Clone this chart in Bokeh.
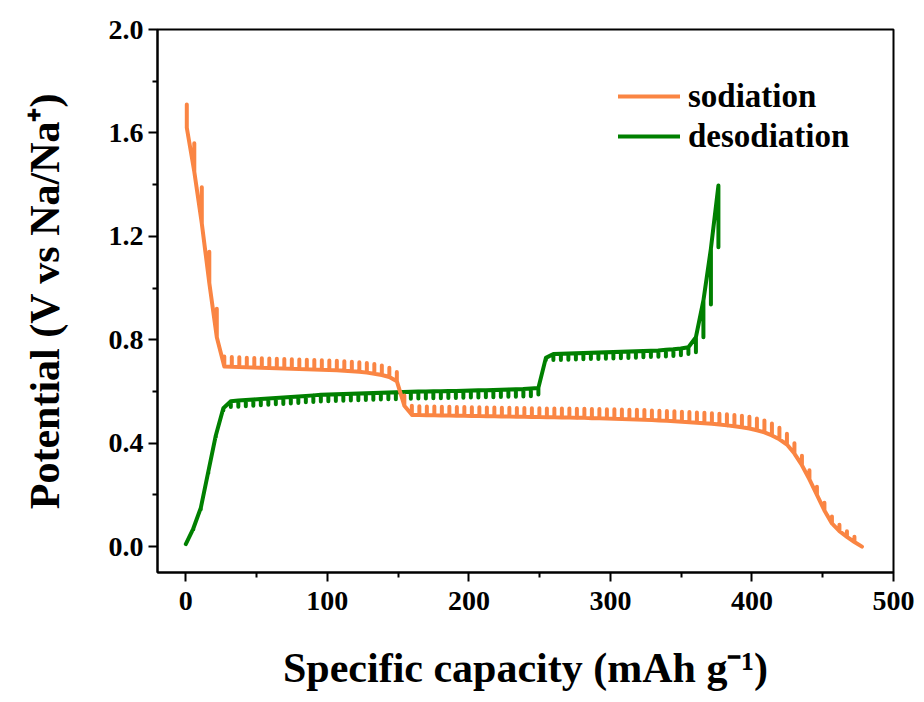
from bokeh.plotting import figure
from bokeh.models import Range1d, FixedTicker, PrintfTickFormatter, Legend, LegendItem
from bokeh.embed import file_html
from bokeh.resources import INLINE

# ---------------- data ----------------
# Sodiation (GITT discharge): start point, then per pulse: capacity, closed-circuit V, relaxed V
sod_start_q = 0.7
sod_start_v = [1.71, 1.62]
sod_q = [6.0, 11.3, 16.6, 21.9, 27.2, 32.5, 37.8, 43.1, 48.4, 53.7,
         59.0, 64.3, 69.6, 74.9, 80.2, 85.5, 90.8, 96.1, 101.4, 106.7,
         112.0, 117.3, 122.6, 127.9, 133.2, 138.5, 143.8, 149.1, 154.4, 159.7,
         165.0, 170.3, 175.6, 180.9, 186.2, 191.5, 196.8, 202.1, 207.4, 212.7,
         218.0, 223.3, 228.6, 233.9, 239.2, 244.5, 249.8, 255.1, 260.4, 265.7,
         271.0, 276.3, 281.6, 286.9, 292.2, 297.5, 302.8, 308.1, 313.4, 318.7,
         324.0, 329.3, 334.6, 339.9, 345.2, 350.5, 355.8, 361.1, 366.4, 371.7,
         377.0, 382.3, 387.6, 392.9, 398.2, 403.5, 408.8, 414.1, 419.4, 424.7,
         430.0, 435.3, 440.6, 445.9, 451.2, 456.5, 461.8, 467.1, 472.4, 477.7]
sod_v = [1.45, 1.25, 1.02, 0.81, 0.697, 0.696, 0.695, 0.694, 0.693, 0.692,
         0.691, 0.690, 0.689, 0.688, 0.687, 0.686, 0.685, 0.684, 0.683, 0.682,
         0.680, 0.678, 0.676, 0.673, 0.669, 0.664, 0.656, 0.640, 0.545, 0.510,
         0.509, 0.508, 0.508, 0.507, 0.507, 0.506, 0.506, 0.505, 0.505, 0.504,
         0.504, 0.503, 0.503, 0.502, 0.502, 0.501, 0.501, 0.500, 0.500, 0.499,
         0.499, 0.498, 0.498, 0.497, 0.497, 0.496, 0.495, 0.494, 0.493, 0.492,
         0.491, 0.490, 0.488, 0.487, 0.485, 0.483, 0.481, 0.479, 0.477, 0.475,
         0.472, 0.469, 0.466, 0.462, 0.457, 0.450, 0.442, 0.430, 0.415, 0.395,
         0.360, 0.315, 0.260, 0.200, 0.140, 0.090, 0.060, 0.038, 0.018, 0.000]
sod_ocv = [1.56, 1.39, 1.14, 0.92, 0.735, 0.733, 0.732, 0.731, 0.730, 0.729,
           0.728, 0.727, 0.726, 0.725, 0.724, 0.723, 0.722, 0.721, 0.720, 0.719,
           0.717, 0.715, 0.713, 0.710, 0.706, 0.701, 0.692, 0.675, 0.585, 0.545,
           0.543, 0.542, 0.542, 0.541, 0.541, 0.540, 0.540, 0.539, 0.539, 0.538,
           0.538, 0.537, 0.537, 0.536, 0.536, 0.535, 0.535, 0.534, 0.534, 0.534,
           0.534, 0.533, 0.533, 0.532, 0.532, 0.531, 0.531, 0.530, 0.529, 0.529,
           0.528, 0.527, 0.526, 0.525, 0.524, 0.522, 0.521, 0.519, 0.518, 0.516,
           0.514, 0.512, 0.509, 0.506, 0.502, 0.496, 0.488, 0.476, 0.460, 0.437,
           0.400, 0.352, 0.295, 0.232, 0.170, 0.117, 0.085, 0.060, 0.038, 0.000]

# Desodiation (GITT charge): start point, then per pulse: capacity, closed-circuit V, relaxed V
des_start_q = 0.0
des_start_v = [0.01]
des_q = [5.3, 10.6, 15.9, 21.2, 26.5, 31.8, 37.1, 42.4, 47.7, 53.0,
         58.3, 63.6, 68.9, 74.2, 79.5, 84.8, 90.1, 95.4, 100.7, 106.0,
         111.3, 116.6, 121.9, 127.2, 132.5, 137.8, 143.1, 148.4, 153.7, 159.0,
         164.3, 169.6, 174.9, 180.2, 185.5, 190.8, 196.1, 201.4, 206.7, 212.0,
         217.3, 222.6, 227.9, 233.2, 238.5, 243.8, 249.1, 254.4, 259.7, 265.0,
         270.3, 275.6, 280.9, 286.2, 291.5, 296.8, 302.1, 307.4, 312.7, 318.0,
         323.3, 328.6, 333.9, 339.2, 344.5, 349.8, 355.1, 360.4, 365.7, 371.0,
         376.3]
des_v = [0.070, 0.150, 0.290, 0.430, 0.535, 0.562, 0.565, 0.567, 0.569, 0.571,
         0.573, 0.575, 0.577, 0.579, 0.581, 0.583, 0.585, 0.587, 0.588, 0.589,
         0.590, 0.591, 0.592, 0.593, 0.594, 0.595, 0.596, 0.597, 0.598, 0.599,
         0.600, 0.600, 0.601, 0.601, 0.602, 0.602, 0.603, 0.604, 0.605, 0.605,
         0.606, 0.607, 0.608, 0.609, 0.610, 0.612, 0.614, 0.730, 0.745, 0.746,
         0.747, 0.748, 0.749, 0.750, 0.751, 0.752, 0.753, 0.754, 0.755, 0.756,
         0.757, 0.758, 0.759, 0.761, 0.763, 0.766, 0.771, 0.810, 0.952, 1.153,
         1.397]
des_ocv = [0.066, 0.145, 0.284, 0.424, 0.527, 0.540, 0.541, 0.543, 0.545, 0.547,
           0.549, 0.551, 0.552, 0.554, 0.556, 0.558, 0.559, 0.561, 0.562, 0.563,
           0.564, 0.565, 0.566, 0.567, 0.568, 0.569, 0.570, 0.570, 0.571, 0.572,
           0.573, 0.573, 0.574, 0.574, 0.575, 0.575, 0.576, 0.577, 0.577, 0.578,
           0.578, 0.579, 0.580, 0.580, 0.581, 0.582, 0.588, 0.722, 0.722, 0.722,
           0.723, 0.724, 0.725, 0.726, 0.726, 0.727, 0.728, 0.729, 0.730, 0.731,
           0.732, 0.733, 0.734, 0.735, 0.737, 0.740, 0.745, 0.752, 0.810, 0.936,
           1.158]

x_major = [0, 100, 200, 300, 400, 500]
x_minor = [50, 150, 250, 350, 450]
y_major = [0.0, 0.4, 0.8, 1.2, 1.6, 2.0]
y_minor = [0.2, 0.6, 1.0, 1.4, 1.8]

SOD_COLOR = "#FA8543"
DES_COLOR = "#008000"
FONT = "Liberation Serif"


def gitt_path(q0, v0, q, v, ocv):
    xs = [q0] * len(v0)
    ys = list(v0)
    n = len(q)
    for i in range(n):
        xs += [q[i], q[i]]
        ys += [v[i], ocv[i]]
        if i < n - 1:
            xs.append(q[i])
            ys.append(v[i])
    return xs, ys


sx, sy = gitt_path(sod_start_q, sod_start_v, sod_q, sod_v, sod_ocv)
dx, dy = gitt_path(des_start_q, des_start_v, des_q, des_v, des_ocv)

p = figure(width=924, height=702,
           x_range=Range1d(-20, 500), y_range=Range1d(-0.1, 2.0),
           output_backend="svg", toolbar_location=None,
           min_border_left=157, min_border_right=31,
           min_border_top=29, min_border_bottom=130)

p.xgrid.visible = False
p.ygrid.visible = False
p.outline_line_color = "black"
p.outline_line_width = 2
p.outline_line_alpha = 1.0
p.background_fill_color = "white"
p.border_fill_color = "white"

rd = p.line(dx, dy, line_color=DES_COLOR, line_width=4,
            line_join="round", line_cap="round")
rs = p.line(sx, sy, line_color=SOD_COLOR, line_width=4,
            line_join="round", line_cap="round")

p.xaxis.ticker = FixedTicker(ticks=x_major, minor_ticks=x_minor)
p.yaxis.ticker = FixedTicker(ticks=y_major, minor_ticks=y_minor)
p.yaxis.formatter = PrintfTickFormatter(format="%.1f")

for ax in (p.xaxis, p.yaxis):
    ax.axis_line_width = 2
    ax.axis_line_color = "black"
    ax.major_tick_line_width = 2
    ax.major_tick_line_color = "black"
    ax.minor_tick_line_width = 2
    ax.minor_tick_line_color = "black"
    ax.major_tick_in = 0
    ax.major_tick_out = 9
    ax.minor_tick_in = 0
    ax.minor_tick_out = 5
    ax.major_label_text_font = FONT
    ax.major_label_text_font_style = "bold"
    ax.major_label_text_font_size = "28px"
    ax.major_label_text_color = "black"
    ax.axis_label_text_font = FONT
    ax.axis_label_text_font_style = "bold"
    ax.axis_label_text_font_size = "42px"
    ax.axis_label_text_color = "black"

p.xaxis.axis_label = "Specific capacity (mAh g\u207b\u00b9)"
p.yaxis.axis_label = "Potential (V vs Na/Na\u207a)"
p.xaxis.major_label_standoff = 10
p.yaxis.major_label_standoff = 5
p.xaxis.axis_label_standoff = 32
p.yaxis.axis_label_standoff = 38

legend = Legend(items=[LegendItem(label="sodiation", renderers=[rs]),
                       LegendItem(label="desodiation", renderers=[rd])],
                location=(461, 416))
legend.padding = 0
legend.margin = 0
legend.spacing = 0
legend.glyph_width = 62
legend.glyph_height = 40
legend.label_height = 40
legend.label_standoff = 8
legend.label_text_font = FONT
legend.label_text_font_style = "bold"
legend.label_text_font_size = "33px"
legend.label_text_color = "black"
legend.border_line_alpha = 0
legend.background_fill_alpha = 0
p.add_layout(legend)

open("out.html", "w").write(file_html(p, INLINE))
